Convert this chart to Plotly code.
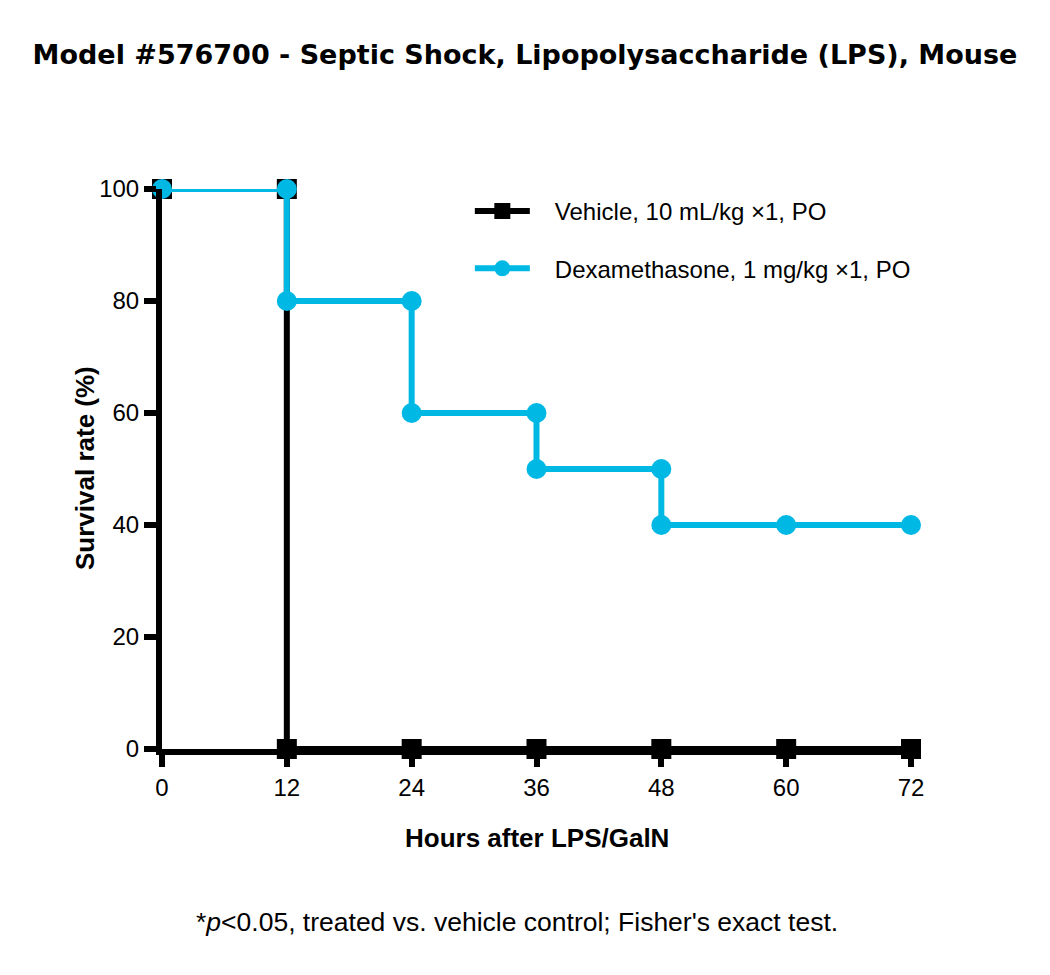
import plotly.graph_objects as go

# Data (step vertices of Kaplan-Meier style survival curves)
veh_hours = [0, 12, 12, 24, 36, 48, 60, 72]
veh_surv = [100, 100, 0, 0, 0, 0, 0, 0]
dex_hours = [0, 12, 12, 24, 24, 36, 36, 48, 48, 60, 72]
dex_surv = [100, 100, 80, 80, 60, 60, 50, 50, 40, 40, 40]
x_ticks = [0, 12, 24, 36, 48, 60, 72]
y_ticks = [0, 20, 40, 60, 80, 100]
series_names = ["Vehicle, 10 mL/kg \u00d71, PO", "Dexamethasone, 1 mg/kg \u00d71, PO"]

CYAN = "#00B8E4"
FONT = "Liberation Sans, Arial, sans-serif"
TFONT = "DejaVu Sans, sans-serif"
PAD = "\u00a0\u00a0\u00a0"

fig = go.Figure()
fig.add_trace(go.Scatter(
    x=veh_hours, y=veh_surv, mode="lines+markers",
    name=PAD + series_names[0], legendgroup="a",
    line=dict(color="black", width=6),
    marker=dict(symbol="square", size=20, color="black"),
    cliponaxis=False,
))
fig.add_trace(go.Scatter(
    x=dex_hours, y=dex_surv, mode="lines+markers",
    name=PAD + series_names[1], legendgroup="b",
    line=dict(color=CYAN, width=6),
    marker=dict(symbol="circle", size=20, color=CYAN),
    cliponaxis=False,
))

fig.update_layout(
    width=1050, height=975, autosize=False,
    margin=dict(l=154, r=147, t=181, b=234),
    paper_bgcolor="white", plot_bgcolor="white",
    font=dict(family=FONT, color="black", size=24),
    title=dict(
        text="<b>Model #576700 - Septic Shock, Lipopolysaccharide (LPS), Mouse</b>",
        x=517 / 1050, xref="container", xanchor="center",
        y=1 - 47 / 975, yref="container", yanchor="middle",
        font=dict(size=27, family=TFONT, color="black"),
    ),
    showlegend=True,
    legend=dict(
        x=0.411, y=1.0, xanchor="left", yanchor="top",
        font=dict(size=24, family=FONT),
        tracegroupgap=23, traceorder="grouped",
        itemwidth=55,
        bgcolor="rgba(0,0,0,0)",
    ),
    xaxis=dict(
        range=[0, 72], tickvals=x_ticks, ticktext=[str(v) for v in x_ticks],
        showline=True, linecolor="black", linewidth=6,
        ticks="outside", ticklen=12, tickwidth=6, tickcolor="black",
        showgrid=False, zeroline=False,
        tickfont=dict(size=24), fixedrange=True,
    ),
    yaxis=dict(
        range=[0, 100], tickvals=y_ticks, ticktext=[str(v) for v in y_ticks],
        showline=True, linecolor="black", linewidth=6,
        ticks="outside", ticklen=12, tickwidth=6, tickcolor="black",
        showgrid=False, zeroline=False,
        tickfont=dict(size=24), fixedrange=True,
    ),
    annotations=[
        dict(text="<b>Hours after LPS/GalN</b>", xref="paper", yref="paper",
             x=(537 - 162) / 749, y=(749 - 838) / 560, xanchor="center", yanchor="middle",
             showarrow=False, font=dict(size=26)),
        dict(text="<b>Survival rate (%)</b>", xref="paper", yref="paper",
             x=(85 - 162) / 749, y=(749 - 468) / 560, xanchor="center", yanchor="middle",
             textangle=-90, showarrow=False, font=dict(size=26)),
        dict(text="*<i>p</i><0.05, treated vs. vehicle control; Fisher's exact test.",
             xref="paper", yref="paper",
             x=(517 - 162) / 749, y=(749 - 922) / 560,
             xanchor="center", yanchor="middle",
             showarrow=False, font=dict(size=26.5)),
    ],
)

fig.write_html("out.html")
